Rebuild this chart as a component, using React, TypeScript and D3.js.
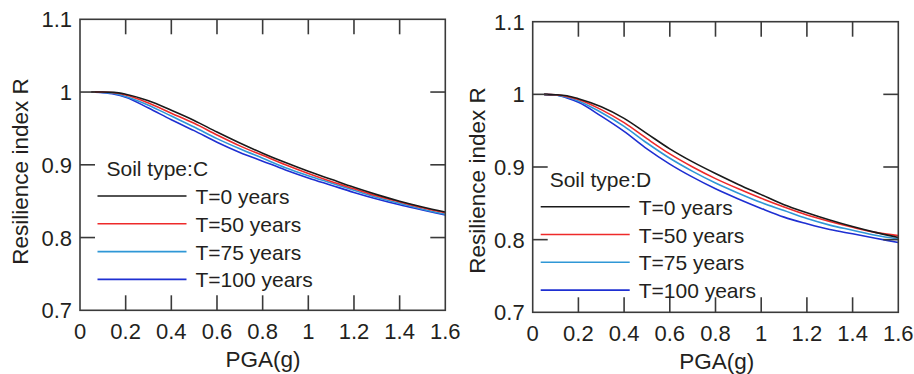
import React from "react";
import * as d3 from "d3";

// PGA sample points (g)
const pga = [0.05, 0.1, 0.15, 0.2, 0.3, 0.4, 0.5, 0.6, 0.7, 0.8, 0.9, 1.0, 1.1, 1.2, 1.3, 1.4, 1.5, 1.6];

// Soil type C resilience index per service time
const soilC_T0 = [1.0, 1.0, 0.9995, 0.997, 0.988, 0.975, 0.961, 0.945, 0.93, 0.916, 0.903, 0.891, 0.88, 0.869, 0.859, 0.85, 0.842, 0.835];
const soilC_T50 = [1.0, 1.0, 0.999, 0.996, 0.985, 0.971, 0.957, 0.941, 0.926, 0.913, 0.9, 0.888, 0.877, 0.867, 0.857, 0.849, 0.841, 0.834];
const soilC_T75 = [1.0, 0.9995, 0.998, 0.994, 0.982, 0.967, 0.952, 0.936, 0.922, 0.909, 0.896, 0.885, 0.875, 0.865, 0.855, 0.847, 0.839, 0.832];
const soilC_T100 = [1.0, 0.999, 0.997, 0.993, 0.978, 0.962, 0.947, 0.931, 0.917, 0.905, 0.893, 0.882, 0.872, 0.862, 0.853, 0.845, 0.838, 0.831];

// Soil type D resilience index per service time
const soilD_T0 = [1.0, 0.9995, 0.998, 0.994, 0.983, 0.967, 0.946, 0.925, 0.907, 0.891, 0.876, 0.862, 0.848, 0.837, 0.827, 0.818, 0.81, 0.803];
const soilD_T50 = [1.0, 0.9995, 0.997, 0.993, 0.979, 0.961, 0.939, 0.918, 0.9, 0.884, 0.87, 0.857, 0.845, 0.834, 0.825, 0.817, 0.81, 0.8055];
const soilD_T75 = [1.0, 0.999, 0.996, 0.991, 0.975, 0.956, 0.933, 0.912, 0.894, 0.878, 0.864, 0.851, 0.84, 0.829, 0.82, 0.813, 0.806, 0.801];
const soilD_T100 = [1.0, 0.999, 0.995, 0.989, 0.97, 0.949, 0.925, 0.904, 0.886, 0.87, 0.856, 0.843, 0.831, 0.822, 0.814, 0.808, 0.802, 0.796];

const seriesNames = ["T=0 years", "T=50 years", "T=75 years", "T=100 years"];
const seriesColors = ["#1a1a1a", "#ee2a2a", "#2f97d6", "#1e2fd2"];

const xTicks = [0, 0.2, 0.4, 0.6, 0.8, 1, 1.2, 1.4, 1.6];
const yTicks = [0.7, 0.8, 0.9, 1, 1.1];

const FONT = "'Liberation Sans', Arial, Helvetica, sans-serif";
const TEXT = "#231f20";
const AXIS = "#3a3a3a";

type PanelProps = {
  title: string;
  series: number[][];
  left: number;
  right: number;
  top: number;
  bottom: number;
  yLabelX: number;
  yLabelY: number;
  xTitleX: number;
  xTitleY: number;
  legendX: number;
  legendY: number;
};

function Panel(p: PanelProps) {
  const x = d3.scaleLinear().domain([0, 1.6]).range([p.left, p.right]);
  const y = d3.scaleLinear().domain([0.7, 1.1]).range([p.bottom, p.top]);
  const line = d3
    .line<number>()
    .x((_, i) => x(pga[i]))
    .y((d) => y(d))
    .curve(d3.curveMonotoneX);
  const tickLen = 15;
  const fmt = (v: number) => String(+v.toFixed(1));
  const rowGap = 27.8;

  return (
    <g fontFamily={FONT} fill={TEXT}>
      <defs>
        <clipPath id={`clip-${p.title}`}>
          <rect x={p.left} y={p.top} width={p.right - p.left} height={p.bottom - p.top} />
        </clipPath>
      </defs>
      {/* curves */}
      <g clipPath={`url(#clip-${p.title})`}>
        {p.series
          .slice()
          .reverse()
          .map((s, ri) => {
            const i = p.series.length - 1 - ri;
            return (
              <path key={i} d={line(s) || ""} fill="none" stroke={seriesColors[i]} strokeWidth={1.6} />
            );
          })}
      </g>
      {/* frame */}
      <rect
        x={p.left}
        y={p.top}
        width={p.right - p.left}
        height={p.bottom - p.top}
        fill="none"
        stroke={AXIS}
        strokeWidth={1.6}
      />
      {/* inward ticks on all four sides */}
      {xTicks.slice(1, -1).map((t) => (
        <g key={`xt${t}`} stroke={AXIS} strokeWidth={1.6}>
          <line x1={x(t)} x2={x(t)} y1={p.bottom} y2={p.bottom - tickLen} />
          <line x1={x(t)} x2={x(t)} y1={p.top} y2={p.top + tickLen} />
        </g>
      ))}
      {yTicks.slice(1, -1).map((t) => (
        <g key={`yt${t}`} stroke={AXIS} strokeWidth={1.6}>
          <line x1={p.left} x2={p.left + tickLen} y1={y(t)} y2={y(t)} />
          <line x1={p.right} x2={p.right - tickLen} y1={y(t)} y2={y(t)} />
        </g>
      ))}
      {/* tick labels */}
      {xTicks.map((t) => (
        <text key={`xl${t}`} x={x(t)} y={p.bottom + 29} textAnchor="middle" fontSize={22}>
          {fmt(t)}
        </text>
      ))}
      {yTicks.map((t) => (
        <text key={`yl${t}`} x={p.left - 8} y={y(t) + 8} textAnchor="end" fontSize={22}>
          {fmt(t)}
        </text>
      ))}
      {/* axis titles */}
      <text x={p.xTitleX} y={p.xTitleY} textAnchor="middle" fontSize={22.5}>
        PGA(g)
      </text>
      <text
        transform={`translate(${p.yLabelX},${p.yLabelY}) rotate(-90)`}
        textAnchor="middle"
        fontSize={22.5}
      >
        Resilience index R
      </text>
      {/* legend */}
      <text x={p.legendX + 9} y={p.legendY - 20} fontSize={21}>
        {`Soil type:${p.title}`}
      </text>
      {seriesNames.map((n, i) => (
        <g key={n}>
          <line
            x1={p.legendX}
            x2={p.legendX + 89}
            y1={p.legendY + i * rowGap}
            y2={p.legendY + i * rowGap}
            stroke={seriesColors[i]}
            strokeWidth={1.6}
          />
          <text x={p.legendX + 98} y={p.legendY + i * rowGap + 8} fontSize={21}>
            {n}
          </text>
        </g>
      ))}
    </g>
  );
}

export default function App() {
  return (
    <svg
      width={914}
      height={374}
      style={{ position: "absolute", left: 0, top: 0, background: "#fff" }}
    >
      <rect width={914} height={374} fill="#fff" />
      <Panel
        title="C"
        series={[soilC_T0, soilC_T50, soilC_T75, soilC_T100]}
        left={80}
        right={445.3}
        top={19.3}
        bottom={310.3}
        yLabelX={28}
        yLabelY={171.5}
        xTitleX={263}
        xTitleY={366.5}
        legendX={97.5}
        legendY={196}
      />
      <Panel
        title="D"
        series={[soilD_T0, soilD_T50, soilD_T75, soilD_T100]}
        left={532.7}
        right={898.3}
        top={21.7}
        bottom={312.3}
        yLabelX={485}
        yLabelY={180.5}
        xTitleX={716.7}
        xTitleY={369}
        legendX={540.7}
        legendY={206.7}
      />
    </svg>
  );
}
